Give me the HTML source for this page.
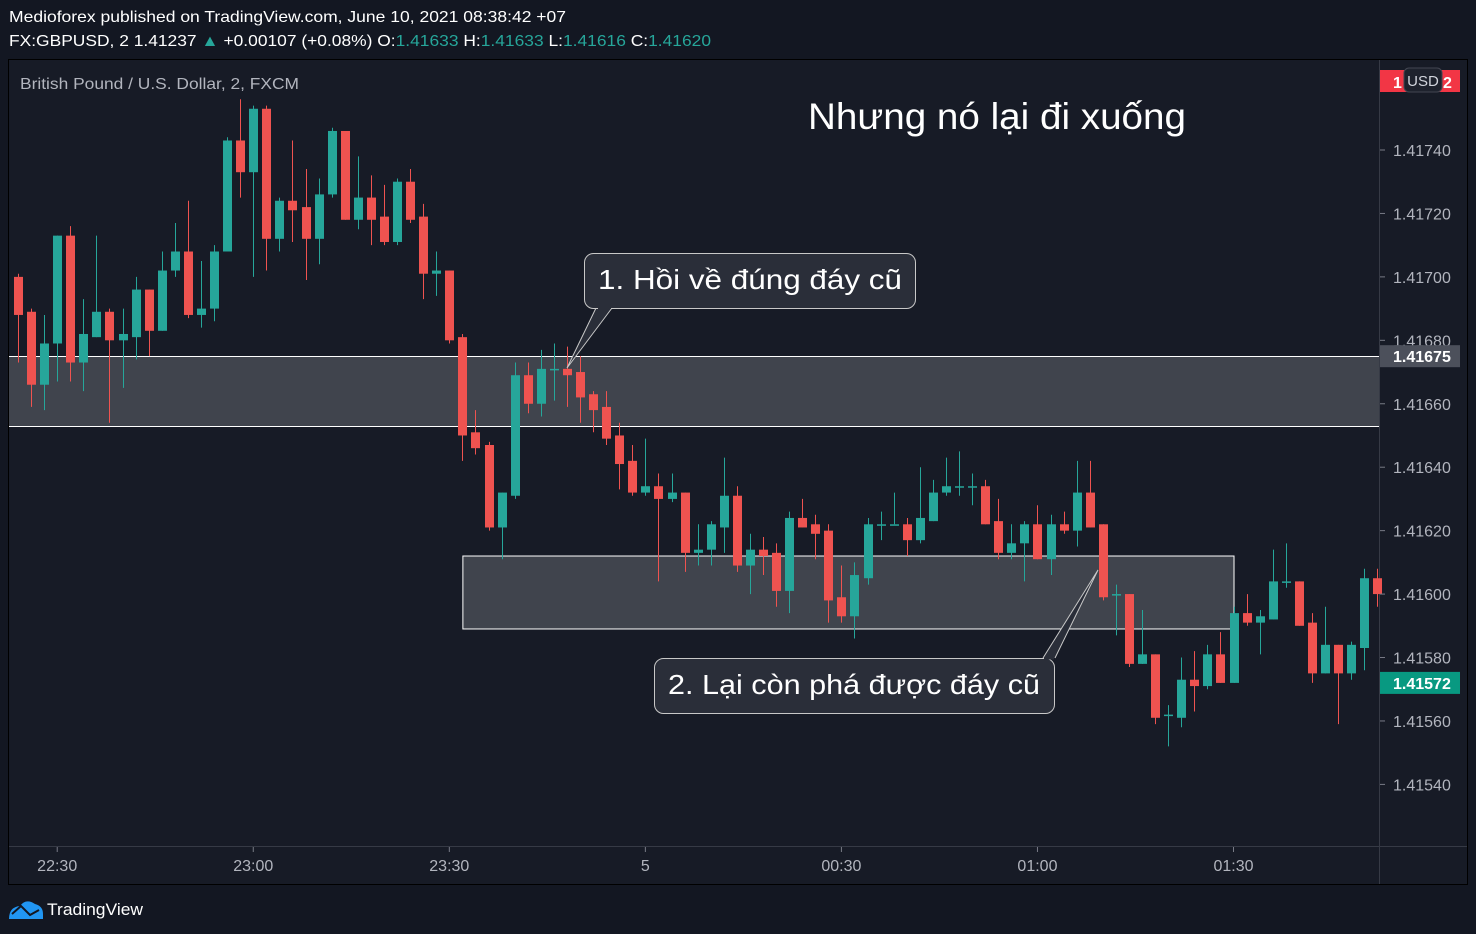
<!DOCTYPE html>
<html><head><meta charset="utf-8"><style>
body{margin:0;width:1476px;height:934px;background:#131722;overflow:hidden;font-family:"Liberation Sans","Noto Sans CJK SC",sans-serif;}
</style></head><body>
<svg id="chart" width="1476" height="934" style="position:absolute;left:0;top:0">
<text x="9" y="22" fill="#fff" font-size="16" textLength="557" lengthAdjust="spacingAndGlyphs">Medioforex published on TradingView.com, June 10, 2021 08:38:42 +07</text>
<text x="9" y="46" fill="#fff" font-size="16" textLength="702" lengthAdjust="spacingAndGlyphs">FX:GBPUSD, 2  1.41237 <tspan fill="#26a69a">▲</tspan> +0.00107 (+0.08%) O:<tspan fill="#26a69a">1.41633</tspan> H:<tspan fill="#26a69a">1.41633</tspan> L:<tspan fill="#26a69a">1.41616</tspan> C:<tspan fill="#26a69a">1.41620</tspan></text>
<rect x="8.5" y="59.5" width="1459" height="825" fill="#171b26" stroke="#000"/>
<line x1="9" y1="846.5" x2="1467" y2="846.5" stroke="#363a45"/>
<line x1="1379.5" y1="60" x2="1379.5" y2="884" stroke="#363a45"/>
<g id="zones"></g>
<g id="candles"></g>
<g id="axes"></g>
<text x="20" y="89" fill="#b2b5be" font-size="16" textLength="279" lengthAdjust="spacingAndGlyphs">British Pound / U.S. Dollar, 2, FXCM</text>
<text x="808" y="129" fill="#fff" font-size="37" textLength="378" lengthAdjust="spacingAndGlyphs">Nhưng nó lại đi xuống</text>
<g>
<path d="M596 308 L567 368 L612 308" fill="#2a2e39" stroke="#c8c8c8" stroke-width="1"/>
<rect x="584.5" y="253.5" width="331" height="55" rx="9" fill="#2a2e39" stroke="#c8c8c8"/>
<line x1="598" y1="308" x2="611" y2="308" stroke="#2a2e39" stroke-width="2"/>
<text x="598" y="289" fill="#fff" font-size="28" textLength="304" lengthAdjust="spacingAndGlyphs">1. Hồi về đúng đáy cũ</text>
</g>
<g>
<path d="M1043 658 L1098 570 L1055 658" fill="#2a2e39" stroke="#c8c8c8" stroke-width="1"/>
<rect x="654.5" y="658.5" width="400" height="55" rx="9" fill="#2a2e39" stroke="#c8c8c8"/>
<line x1="1044" y1="658.5" x2="1054" y2="658.5" stroke="#2a2e39" stroke-width="2"/>
<text x="668" y="694" fill="#fff" font-size="28" textLength="372" lengthAdjust="spacingAndGlyphs">2. Lại còn phá được đáy cũ</text>
</g>
<g>
<path d="M9 919 Q9 907 20 906 Q26 898 35 904 Q43 906 43 914 L43 919 Z" fill="#2196f3"/>
<polyline points="12,914 21,906 30,915 39,910" fill="none" stroke="#131722" stroke-width="2"/>
<text x="47" y="915" fill="#fff" font-size="17" textLength="96" lengthAdjust="spacingAndGlyphs">TradingView</text>
</g>
</svg>
<script>
const times=["22:30","23:00","23:30","5","00:30","01:00","01:30"];
const timeIdx=[3,18,33,48,63,78,93];
const priceTicks=[1.41740,1.41720,1.41700,1.41680,1.41660,1.41640,1.41620,1.41600,1.41580,1.41560,1.41540];
const opens=[1.41700,1.41689,1.41666,1.41679,1.41713,1.41673,1.41681,1.41689,1.41680,1.41681,1.41696,1.41683,1.41702,1.41708,1.41688,1.41690,1.41708,1.41743,1.41733,1.41753,1.41712,1.41724,1.41722,1.41712,1.41726,1.41746,1.41718,1.41725,1.41719,1.41711,1.41730,1.41719,1.41701,1.41702,1.41681,1.41651,1.41647,1.41621,1.41631,1.41669,1.41660,1.41671,1.41671,1.41670,1.41663,1.41659,1.41650,1.41642,1.41632,1.41634,1.41630,1.41632,1.41613,1.41614,1.41621,1.41631,1.41609,1.41614,1.41613,1.41601,1.41624,1.41622,1.41620,1.41599,1.41593,1.41605,1.41622,1.41622,1.41622,1.41617,1.41623,1.41632,1.41634,1.41634,1.41634,1.41623,1.41613,1.41616,1.41622,1.41611,1.41622,1.41620,1.41632,1.41622,1.41600,1.41600,1.41578,1.41581,1.41562,1.41561,1.41573,1.41571,1.41581,1.41572,1.41594,1.41591,1.41592,1.41604,1.41604,1.41591,1.41575,1.41584,1.41575,1.41583,1.41605];
const highs=[1.41701,1.41690,1.41688,1.41713,1.41716,1.41693,1.41713,1.41690,1.41690,1.41700,1.41696,1.41708,1.41717,1.41724,1.41705,1.41710,1.41744,1.41756,1.41754,1.41754,1.41725,1.41743,1.41734,1.41731,1.41747,1.41746,1.41738,1.41732,1.41729,1.41731,1.41734,1.41723,1.41708,1.41702,1.41682,1.41658,1.41648,1.41632,1.41673,1.41673,1.41677,1.41679,1.41678,1.41675,1.41664,1.41664,1.41654,1.41647,1.41649,1.41638,1.41638,1.41632,1.41622,1.41623,1.41643,1.41634,1.41619,1.41618,1.41616,1.41626,1.41630,1.41625,1.41622,1.41609,1.41610,1.41624,1.41626,1.41632,1.41624,1.41640,1.41636,1.41643,1.41645,1.41638,1.41636,1.41630,1.41622,1.41623,1.41628,1.41625,1.41626,1.41642,1.41642,1.41622,1.41603,1.41600,1.41595,1.41581,1.41565,1.41580,1.41582,1.41584,1.41588,1.41596,1.41600,1.41595,1.41614,1.41616,1.41604,1.41594,1.41596,1.41584,1.41585,1.41608,1.41608];
const lows=[1.41673,1.41659,1.41658,1.41667,1.41667,1.41664,1.41681,1.41654,1.41665,1.41674,1.41675,1.41683,1.41700,1.41687,1.41684,1.41686,1.41708,1.41725,1.41700,1.41702,1.41708,1.41711,1.41699,1.41704,1.41725,1.41718,1.41715,1.41710,1.41710,1.41710,1.41717,1.41693,1.41694,1.41679,1.41642,1.41644,1.41620,1.41611,1.41630,1.41657,1.41656,1.41661,1.41659,1.41654,1.41651,1.41647,1.41633,1.41631,1.41631,1.41604,1.41629,1.41607,1.41609,1.41609,1.41613,1.41607,1.41600,1.41606,1.41596,1.41594,1.41621,1.41611,1.41591,1.41591,1.41586,1.41603,1.41617,1.41622,1.41612,1.41616,1.41623,1.41631,1.41631,1.41628,1.41622,1.41611,1.41611,1.41604,1.41611,1.41606,1.41619,1.41615,1.41621,1.41598,1.41587,1.41577,1.41578,1.41559,1.41552,1.41558,1.41563,1.41570,1.41572,1.41572,1.41590,1.41581,1.41592,1.41602,1.41590,1.41572,1.41575,1.41559,1.41573,1.41576,1.41596];
const closes=[1.41688,1.41666,1.41679,1.41713,1.41673,1.41682,1.41689,1.41680,1.41682,1.41696,1.41683,1.41702,1.41708,1.41688,1.41690,1.41708,1.41743,1.41733,1.41753,1.41712,1.41724,1.41721,1.41712,1.41726,1.41746,1.41718,1.41725,1.41718,1.41711,1.41730,1.41718,1.41701,1.41702,1.41680,1.41650,1.41646,1.41621,1.41632,1.41669,1.41660,1.41671,1.41671,1.41669,1.41662,1.41658,1.41649,1.41641,1.41632,1.41634,1.41630,1.41632,1.41613,1.41614,1.41622,1.41631,1.41609,1.41614,1.41612,1.41601,1.41624,1.41621,1.41619,1.41598,1.41593,1.41606,1.41622,1.41622,1.41622,1.41617,1.41624,1.41632,1.41634,1.41634,1.41634,1.41622,1.41613,1.41616,1.41622,1.41611,1.41622,1.41620,1.41632,1.41621,1.41599,1.41600,1.41578,1.41581,1.41561,1.41562,1.41573,1.41571,1.41581,1.41572,1.41594,1.41591,1.41593,1.41604,1.41604,1.41590,1.41575,1.41584,1.41575,1.41584,1.41605,1.41600];
const zone1=[1.41675,1.41653];
const zone2=[1.41612,1.41589];
const zone2Idx=[34,93];
const lastPrice=1.41572;
const markPrice=1.41675;
const NS="http://www.w3.org/2000/svg";
function y(p){return 150+(1.41740-p)/0.0001*31.72;}
function x(i){return 18+i*13.07;}
function mk(tag,attrs,parent){const e=document.createElementNS(NS,tag);for(const k in attrs)e.setAttribute(k,attrs[k]);parent.appendChild(e);return e;}
const zg=document.getElementById('zones'),cg=document.getElementById('candles'),ag=document.getElementById('axes');
let z=mk('rect',{x:9,y:y(zone1[0]),width:1370,height:y(zone1[1])-y(zone1[0]),fill:'#40444d'},zg);


[zone1[0],zone1[1]].forEach(p=>{const l=mk('line',{x1:9,x2:1379,y1:Math.round(y(p))+0.5,y2:Math.round(y(p))+0.5,stroke:'#fff'},zg);

});
let z2=mk('rect',{x:x(zone2Idx[0])+0.5,y:y(zone2[0]),width:x(zone2Idx[1])-x(zone2Idx[0]),height:y(zone2[1])-y(zone2[0]),fill:'#40444d',stroke:'#fff'},zg);


for(let i=0;i<opens.length;i++){
 const up=closes[i]>=opens[i];const col=up?'#26a69a':'#ef5350';const cx=Math.round(x(i))+0.5;
 const w=mk('line',{x1:cx,x2:cx,y1:y(highs[i]),y2:y(lows[i]),stroke:col},cg);
 
 
 const t=y(Math.max(opens[i],closes[i])),b=y(Math.min(opens[i],closes[i]));
 const r=mk('rect',{x:cx-4.5,y:t,width:9,height:Math.max(b-t,1.5),fill:col},cg);
 
 
}
priceTicks.forEach(p=>{const ty=y(p);
 const l=mk('line',{x1:1380,x2:1385,y1:ty,y2:ty,stroke:'#787b86'},ag);
 
 
 const t=mk('text',{x:1393,y:ty+6,fill:'#b2b5be','font-size':16},ag);t.textContent=p.toFixed(5);
 
 });
times.forEach((s,k)=>{const tx=x(timeIdx[k]);
 const l=mk('line',{x1:tx,x2:tx,y1:847,y2:852,stroke:'#787b86'},ag);
 
 
 const t=mk('text',{x:tx,y:871,fill:'#b2b5be','font-size':16,'text-anchor':'middle'},ag);t.textContent=s;
 
 });
function lbl(p,bg,name,txt){const ty=y(p);const g=mk('g',{},ag);
 
 
 mk('rect',{x:1380,y:ty-11,width:80,height:22,fill:bg},g);
 const t=mk('text',{x:1393,y:ty+6,fill:'#fff','font-size':16,'font-weight':'bold'},g);t.textContent=txt;}
lbl(markPrice,'#4c505b','zone-price-label',markPrice.toFixed(5));
lbl(lastPrice,'#089981','last-price-label',lastPrice.toFixed(5));
const rg=mk('g',{},ag);


mk('rect',{x:1380,y:70,width:80,height:22,fill:'#f23645'},rg);
mk('text',{x:1393,y:88,fill:'#fff','font-size':16,'font-weight':'bold'},rg).textContent='1';
mk('text',{x:1443,y:88,fill:'#fff','font-size':16,'font-weight':'bold'},rg).textContent='2';
mk('rect',{x:1404,y:68,width:38,height:24,rx:5,fill:'#1e222d',stroke:'#434651'},rg);
mk('text',{x:1423,y:86,fill:'#d1d4dc','font-size':15,'text-anchor':'middle'},rg).textContent='USD';
</script>
</body></html>
